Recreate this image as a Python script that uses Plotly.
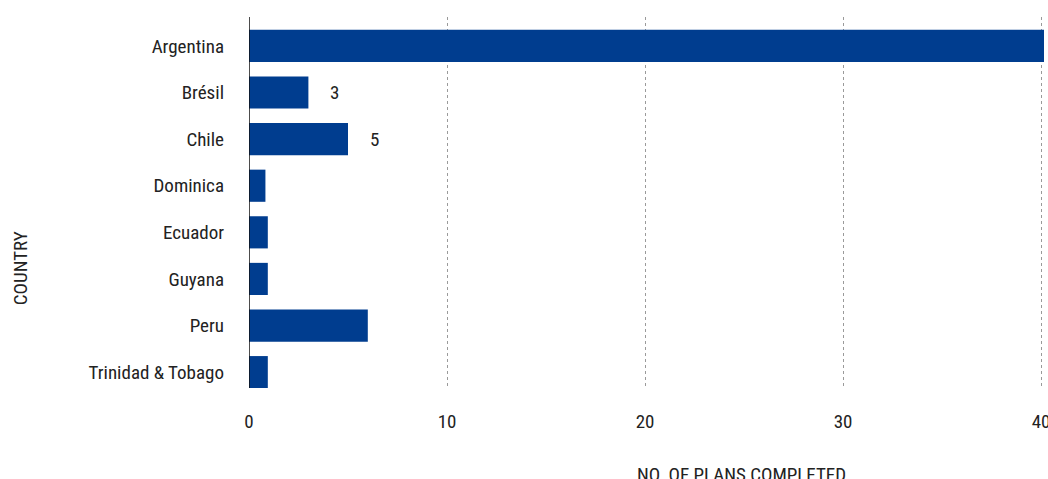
import plotly.graph_objects as go

countries = ["Argentina", "Brésil", "Chile", "Dominica", "Ecuador", "Guyana", "Peru", "Trinidad & Tobago"]
plans = [45, 3, 5, 0.83, 0.95, 0.95, 6, 0.95]
labelled = ["Brésil", "Chile"]
label_values = [3, 5]
x_ticks = [0, 10, 20, 30, 40]

FONT = "Roboto Condensed, Roboto, sans-serif"
BLUE = "#003d8f"
TXT = "#222222"
FS = 19

fig = go.Figure()
fig.add_trace(go.Bar(
    y=countries, x=plans, orientation="h",
    marker=dict(color=BLUE, line=dict(width=0)),
    width=0.69, hoverinfo="x+y",
))

for c, v in zip(labelled, label_values):
    fig.add_annotation(x=v, y=c, xref="x", yref="y", text=str(v), showarrow=False,
                       xanchor="center", xshift=26,
                       font=dict(family=FONT, size=FS, color=TXT))

fig.add_annotation(x=0.62, y=0, xref="paper", yref="paper", yanchor="top", xanchor="center",
                   text="NO. OF PLANS COMPLETED", showarrow=False,
                   font=dict(family=FONT, size=FS, color=TXT), yshift=-73)
fig.add_annotation(x=0, y=0.323, xref="paper", yref="paper", xanchor="center", yanchor="middle",
                   text="COUNTRY", showarrow=False, textangle=-90, xshift=-229,
                   font=dict(family=FONT, size=FS, color=TXT))

fig.update_layout(
    width=1048, height=479,
    margin=dict(l=249, r=4, t=17, b=91),
    paper_bgcolor="white", plot_bgcolor="white",
    showlegend=False,
    font=dict(family=FONT, size=FS, color=TXT),
    xaxis=dict(range=[0, 40.15], tickvals=x_ticks, ticktext=[str(t) for t in x_ticks],
               showgrid=True, gridcolor="#9a9a9a", griddash="dot", gridwidth=1,
               zeroline=False, showline=False, ticks="", ticklabelstandoff=20,
               ticklabeloverflow="allow", automargin=False,
               tickfont=dict(family=FONT, size=FS, color=TXT)),
    yaxis=dict(categoryorder="array", categoryarray=countries,
               range=[7.34, -0.62], showgrid=False, zeroline=False,
               ticks="", ticklabelstandoff=24, automargin=False,
               tickfont=dict(family=FONT, size=FS, color=TXT)),
    shapes=[dict(type="line", xref="x", yref="paper", x0=0, x1=0, y0=0, y1=1,
                 line=dict(color="#111111", width=1.5))],
)

fig.write_html(
    "out.html", config={"displayModeBar": False},
    post_script=(
        "document.documentElement.style.overflow='hidden';"
        "document.body.style.margin='0';document.body.style.overflow='hidden';"
        "document.querySelectorAll('.plotly-graph-div, .svg-container, svg.main-svg')"
        ".forEach(function(e){e.style.overflow='hidden';});"
    ),
)
